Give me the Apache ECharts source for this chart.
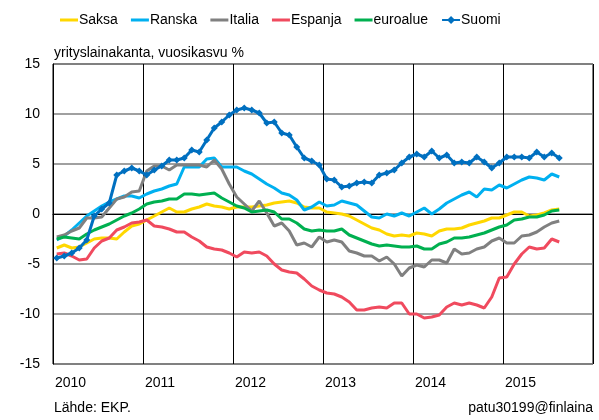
<!DOCTYPE html>
<html>
<head>
<meta charset="utf-8">
<script src="https://cdn.jsdelivr.net/npm/echarts@6/dist/echarts.min.js"></script>
<style>
  html, body { margin: 0; padding: 0; background: #fff; }
  #chart { width: 599px; height: 420px; }
</style>
</head>
<body>
<div id="chart"></div>
<script>
// monthly values, Jan 2010 .. Aug 2015
const years = ['2010', '2011', '2012', '2013', '2014', '2015']

const saksa = [-3.4, -3.1, -3.4, -3.3, -2.9, -2.5, -2.4, -2.4, -2.5, -1.8, -1.2, -1.0,
    -0.6, -0.2, 0.2, 0.6, 0.2, 0.2, 0.5, 0.7, 1.0, 0.8, 0.7, 0.5,
    0.7, 0.7, 0.7, 0.8, 0.9, 1.1, 1.2, 1.3, 1.1, 0.7, 0.6, 0.6,
    0.2, 0.1, 0.0, -0.2, -0.6, -1.0, -1.4, -1.6, -2.0, -2.2, -2.1, -2.2,
    -1.9, -2.0, -2.2, -1.7, -1.5, -1.5, -1.4, -1.1, -0.9, -0.7, -0.4, -0.4,
    -0.1, 0.2, 0.2, -0.2, -0.1, 0.1, 0.4, 0.5]

const ranska = [-2.6, -2.2, -1.6, -0.9, -0.2, 0.3, 0.8, 1.2, 1.5, 1.8, 1.8, 1.6,
    2.0, 2.3, 2.5, 2.8, 3.0, 4.7, 4.7, 4.7, 5.5, 5.6, 4.7, 4.7,
    4.7, 4.3, 4.0, 3.5, 3.0, 2.6, 2.1, 1.9, 1.4, 0.4, 0.7, 1.2,
    0.8, 0.9, 1.3, 1.1, 0.9, 0.3, -0.3, -0.4, 0.0, -0.2, 0.1, -0.2,
    0.2, 0.6, 0.0, 0.5, 1.1, 1.5, 1.9, 2.2, 1.7, 2.5, 2.4, 2.9,
    2.6, 3.0, 3.4, 3.7, 3.6, 3.4, 4.0, 3.7]

const italia = [-2.3, -2.1, -1.7, -1.4, -0.4, -0.4, -0.3, 0.6, 1.5, 1.7, 2.2, 2.3,
    4.3, 4.8, 4.8, 4.4, 4.9, 4.9, 4.9, 4.9, 4.7, 5.4, 4.5, 3.0,
    1.7, 1.0, 0.3, 1.3, 0.1, -1.2, -0.9, -1.7, -3.1, -2.9, -3.3, -2.3,
    -2.8, -2.6, -2.8, -3.7, -3.9, -4.2, -4.2, -4.7, -4.3, -5.0, -6.2, -5.4,
    -5.1, -5.3, -4.6, -4.6, -4.9, -3.5, -4.0, -3.9, -3.5, -3.3, -2.7, -2.4,
    -2.9, -2.9, -2.2, -2.1, -1.8, -1.3, -0.9, -0.7]

const espanja = [-4.0, -3.9, -4.2, -4.6, -4.5, -3.4, -2.7, -2.4, -1.6, -1.3, -0.9, -0.8,
    -0.6, -1.2, -1.3, -1.5, -1.8, -1.8, -2.3, -2.7, -3.3, -3.5, -3.6, -3.9,
    -4.3, -3.8, -3.9, -3.8, -4.2, -5.0, -5.6, -5.8, -5.9, -6.5, -7.2, -7.6,
    -7.9, -8.0, -8.3, -8.8, -9.6, -9.6, -9.4, -9.3, -9.4, -8.9, -8.9, -10.0,
    -10.0, -10.4, -10.3, -10.1, -9.3, -8.9, -9.1, -8.9, -9.1, -9.4, -8.3, -6.4,
    -6.3, -5.0, -4.0, -3.3, -3.5, -3.4, -2.5, -2.8]

const euroalue = [-2.5, -2.3, -2.4, -2.5, -2.0, -1.6, -1.3, -1.0, -0.6, -0.2, 0.1, 0.5,
    1.0, 1.2, 1.3, 1.5, 1.5, 2.0, 2.0, 1.9, 2.0, 2.1, 1.6, 1.2,
    0.8, 0.6, 0.2, 0.3, 0.4, 0.2, -0.5, -0.5, -0.9, -1.5, -1.7, -1.6,
    -1.7, -1.7, -1.5, -2.1, -2.4, -2.7, -3.0, -3.2, -3.1, -3.2, -3.3, -3.3,
    -3.2, -3.5, -3.5, -3.0, -2.8, -2.4, -2.4, -2.3, -2.1, -1.9, -1.6, -1.3,
    -1.1, -0.6, -0.5, -0.3, -0.3, -0.1, 0.3, 0.4]

const suomi = [-4.4, -4.2, -3.9, -3.4, -2.6, -0.2, 0.5, 1.1, 3.9, 4.3, 4.6, 4.3,
    3.9, 4.4, 4.8, 5.4, 5.4, 5.6, 6.4, 6.2, 7.4, 8.6, 9.2, 9.9,
    10.4, 10.6, 10.4, 10.1, 9.1, 9.2, 8.1, 7.9, 6.7, 5.6, 5.3, 4.9,
    3.5, 3.4, 2.7, 2.8, 3.1, 3.2, 3.1, 3.9, 4.1, 4.4, 5.1, 5.7,
    6.0, 5.7, 6.3, 5.6, 5.9, 5.1, 5.2, 5.1, 5.7, 5.2, 4.6, 5.1,
    5.7, 5.7, 5.7, 5.6, 6.2, 5.7, 6.1, 5.6]

const font = 'Arial, "Liberation Sans", sans-serif'
// thin bar icon for legend entries without markers (corner dots keep the 18x10 box)
const lineIcon = 'path://M0,0L0.01,0L0.01,0.01L0,0.01Z M0,3.5L18,3.5L18,6.5L0,6.5Z M17.99,9.99L18,9.99L18,10L17.99,10Z'

// month i sits in the middle of its month on a 0..72 month axis
const toPoints = arr => arr.map((v, i) => [i + 0.5, v])

function lineSeries(name, data, color) {
    return {
        name,
        type: 'line',
        data: toPoints(data),
        symbol: 'none',
        lineStyle: { color, width: 3 },
        itemStyle: { color },
        animation: false
    }
}

const chart = echarts.init(document.getElementById('chart'))
const series = [
    lineSeries('Saksa', saksa, '#FFD700'),
    lineSeries('Ranska', ranska, '#00B0F0'),
    lineSeries('Italia', italia, '#808080'),
    lineSeries('Espanja', espanja, '#F04A5E'),
    lineSeries('euroalue', euroalue, '#00B050'),
    {
        ...lineSeries('Suomi', suomi, '#0070C0'),
        symbol: 'diamond',
        symbolSize: 7,
        showSymbol: true
    }
]

chart.setOption({
    animation: false,
    textStyle: { fontFamily: font },
    legend: {
        left: 55,
        top: 8,
        itemWidth: 18,
        itemHeight: 10,
        itemGap: 13,
        textStyle: { fontFamily: font, fontSize: 14, color: '#000', padding: [0, 0, 0, -4] },
        data: series.map(s => s.name === 'Suomi' ? { name: s.name } : { name: s.name, icon: lineIcon })
    },
    grid: {
        left: 53,
        right: 6,
        top: 64,
        bottom: 56,
        show: true,
        borderColor: '#000',
        borderWidth: 1
    },
    xAxis: {
        type: 'value',
        min: 0,
        max: 72,
        interval: 12,
        axisLine: { show: true, lineStyle: { color: '#000' } },
        axisTick: { show: false },
        splitLine: { show: true, lineStyle: { color: '#000', width: 1 } },
        axisLabel: {
            color: '#000',
            fontSize: 14,
            fontFamily: font,
            margin: 12,
            align: 'left',
            padding: [0, 0, 0, 2],
            formatter: v => years[v / 12] || ''
        }
    },
    yAxis: {
        type: 'value',
        min: -15,
        max: 15,
        interval: 5,
        axisLine: { show: true, lineStyle: { color: '#000' } },
        axisTick: { show: false },
        splitLine: { show: true, lineStyle: { color: '#808080', width: 1.5 } },
        axisLabel: { color: '#000', fontSize: 14, fontFamily: font, margin: 13 }
    },
    graphic: [
        {
            type: 'text',
            left: 54,
            top: 46,
            style: { text: 'yrityslainakanta, vuosikasvu %', fontSize: 14, fontFamily: font, fill: '#000' }
        },
        {
            type: 'text',
            left: 54,
            top: 401,
            style: { text: 'Lähde: EKP.', fontSize: 14, fontFamily: font, fill: '#000' }
        },
        {
            type: 'text',
            right: 6,
            top: 401,
            style: { text: 'patu30199@finlaina', fontSize: 14, fontFamily: font, fill: '#000' }
        }
    ],
    series
})
</script>
</body>
</html>
